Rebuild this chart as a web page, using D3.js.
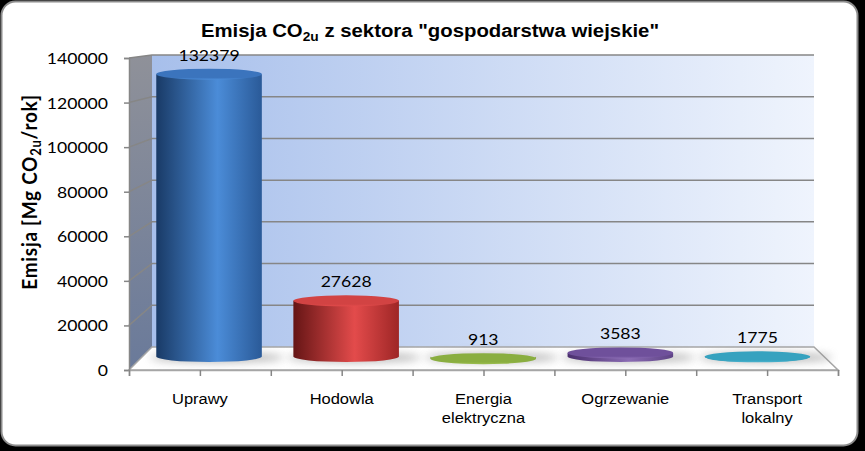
<!DOCTYPE html>
<html>
<head>
<meta charset="utf-8">
<script src="https://cdn.jsdelivr.net/npm/d3@7/dist/d3.min.js"></script>
<style>
  body { margin: 0; background: #000; }
  svg { display: block; }
</style>
</head>
<body>
<svg id="chart" width="865" height="451"></svg>
<script>
// data
const categories = [["Uprawy"], ["Hodowla"], ["Energia", "elektryczna"], ["Ogrzewanie"], ["Transport", "lokalny"]];
const values = [132379, 27628, 913, 3583, 1775];
const yTicks = [0, 20000, 40000, 60000, 80000, 100000, 120000, 140000];
const sideDark = ["#193a66", "#651515", "#6b8a2a", "#4a2f6e", "#1f6f85"];
const sideLight = ["#4b8cd8", "#e34b4b", "#9cbf4f", "#8a6bb3", "#4cb4cf"];
const sideEdge = ["#2a5a98", "#9e2626", "#7fa237", "#5e4385", "#2a8ba6"];
const topFill = ["#3b74bd", "#d24343", "#8aae40", "#6f509b", "#36a2bf"];

const svg = d3.select("#chart");
const defs = svg.append("defs");

// front plane and back plane of the 3d box
const xFront = d3.scaleLinear().domain([0, 5]).range([129, 838]);
const xBack = d3.scaleLinear().domain([0, 5]).range([152, 814]);
const yFront = d3.scaleLinear().domain([0, 140000]).range([370, 58]);
const yBack = d3.scaleLinear().domain([0, 140000]).range([347, 55]);

// point in the box, d = depth 0 (front) .. 1 (back)
function px(u, d) { return xFront(u) + (xBack(u) - xFront(u)) * d; }
function py(v, d) { return yFront(v) + (yBack(v) - yFront(v)) * d; }

// stretched text, the picture is a bit wider than tall
function label(g, x, y, str) {
  return g.append("text").attr("transform", "translate(" + x + "," + y + ") scale(1.1,1)").text(str);
}

// panel
svg.append("rect")
  .attr("x", 1.5).attr("y", 1.5).attr("width", 856).attr("height", 444)
  .attr("rx", 14)
  .attr("fill", "#fff").attr("stroke", "#8c8c8c").attr("stroke-width", 2);

// gradients
const wallGrad = defs.append("linearGradient").attr("id", "wall").attr("x1", 0).attr("x2", 1).attr("y1", 0).attr("y2", 0);
wallGrad.append("stop").attr("offset", "0%").attr("stop-color", "#a7bfeb");
wallGrad.append("stop").attr("offset", "100%").attr("stop-color", "#eff4fd");

const sideGrad = defs.append("linearGradient").attr("id", "side").attr("x1", 0).attr("x2", 0).attr("y1", 0).attr("y2", 1);
sideGrad.append("stop").attr("offset", "0%").attr("stop-color", "#8f9199");
sideGrad.append("stop").attr("offset", "100%").attr("stop-color", "#6a7a9a");

values.forEach(function(v, i) {
  const g = defs.append("linearGradient").attr("id", "cyl" + i).attr("x1", 0).attr("x2", 1).attr("y1", 0).attr("y2", 0);
  g.append("stop").attr("offset", "0%").attr("stop-color", sideDark[i]);
  g.append("stop").attr("offset", "58%").attr("stop-color", sideLight[i]);
  g.append("stop").attr("offset", "100%").attr("stop-color", sideEdge[i]);
  const t = defs.append("linearGradient").attr("id", "top" + i).attr("x1", 0).attr("x2", 0).attr("y1", 0).attr("y2", 1);
  t.append("stop").attr("offset", "0%").attr("stop-color", topFill[i]);
  t.append("stop").attr("offset", "80%").attr("stop-color", topFill[i]);
  t.append("stop").attr("offset", "100%").attr("stop-color", sideLight[i]);
});

defs.append("filter").attr("id", "blur").attr("x", "-50%").attr("y", "-200%").attr("width", "200%").attr("height", "500%")
  .append("feGaussianBlur").attr("stdDeviation", 4);

// back wall
svg.append("path")
  .attr("d", d3.line()([[xBack(0), yBack(140000)], [xBack(5), yBack(140000)], [xBack(5), yBack(0)], [xBack(0), yBack(0)]]) + "Z")
  .attr("fill", "url(#wall)");

// left side wall
svg.append("path")
  .attr("d", d3.line()([[xFront(0), yFront(140000)], [xBack(0), yBack(140000)], [xBack(0), yBack(0)], [xFront(0), yFront(0)]]) + "Z")
  .attr("fill", "url(#side)");

// gridlines on both walls
const grid = svg.append("g").attr("stroke", "#868686").attr("stroke-width", 1.5).attr("fill", "none");
yTicks.filter(function(t) { return t > 0; }).forEach(function(t) {
  grid.append("path").attr("d", d3.line()([[xFront(0), yFront(t)], [xBack(0), yBack(t)], [xBack(5), yBack(t)]]));
});

// floor
svg.append("path")
  .attr("d", d3.line()([[xFront(0), yFront(0)], [xBack(0), yBack(0)], [xBack(5), yBack(0)], [xFront(5), yFront(0)]]) + "Z")
  .attr("fill", "#fff").attr("stroke", "#a6a6a6").attr("stroke-width", 1.5);

// shadows on the floor
values.forEach(function(v, i) {
  const cx = px(i + 0.5, 0.5);
  const rx = (px(i + 1, 0.5) - px(i, 0.5)) * 0.385;
  svg.append("ellipse")
    .attr("cx", cx + 8).attr("cy", py(0, 0.5) - 1)
    .attr("rx", rx + 14).attr("ry", 5)
    .attr("fill", "#8a8a8a").attr("opacity", 0.6)
    .attr("filter", "url(#blur)");
});

// cylinders
const ry = 5.5;
values.forEach(function(v, i) {
  const cx = px(i + 0.5, 0.5);
  const rx = (px(i + 1, 0.5) - px(i, 0.5)) * 0.385;
  const yb = py(0, 0.5) - 2;
  const yt = py(v, 0.45) + 1;
  const g = svg.append("g");
  g.append("path")
    .attr("d", "M" + (cx - rx) + "," + yt +
      "L" + (cx - rx) + "," + yb +
      "A" + rx + "," + ry + " 0 0 0 " + (cx + rx) + "," + yb +
      "L" + (cx + rx) + "," + yt + "Z")
    .attr("fill", "url(#cyl" + i + ")");
  g.append("ellipse")
    .attr("cx", cx).attr("cy", yt).attr("rx", rx).attr("ry", ry)
    .attr("fill", "url(#top" + i + ")");
});

// value labels
const vals = svg.append("g").attr("font-family", "Lato, 'Open Sans', sans-serif").attr("font-size", 16)
  .attr("text-anchor", "middle").attr("fill", "#000");
values.forEach(function(v, i) {
  label(vals, px(i + 0.5, 0.5), py(v, 0.5) - 12, v);
});

// y axis
const yAxis = svg.append("g")
  .attr("transform", "translate(" + xFront(0) + ",0)")
  .call(d3.axisLeft(yFront).tickValues(yTicks).tickSize(5).tickPadding(0).tickFormat(function(d) { return d; }));
yAxis.select(".domain").attr("stroke", "#868686").attr("stroke-width", 1.5);
yAxis.selectAll(".tick line").attr("stroke", "#868686").attr("stroke-width", 1.5);
yAxis.selectAll(".tick text").remove();
yAxis.selectAll(".tick").each(function(d) {
  label(d3.select(this), -21, 5.5, d)
    .attr("text-anchor", "end")
    .attr("font-family", "Lato, 'Open Sans', sans-serif").attr("font-size", 16).attr("fill", "#000");
});

// x axis ticks
const xTicks = d3.range(0, 5.01, 0.5);
const xAxis = svg.append("g")
  .attr("transform", "translate(0," + yFront(0) + ")")
  .call(d3.axisBottom(xFront).tickValues(xTicks).tickSize(6).tickFormat(""));
xAxis.select(".domain").attr("stroke", "#a6a6a6").attr("stroke-width", 1.5);
xAxis.selectAll(".tick line").attr("stroke", "#868686").attr("stroke-width", 1.5);

// x labels
const xl = svg.append("g").attr("font-family", "'Liberation Sans', Arial, sans-serif").attr("font-size", 15)
  .attr("text-anchor", "middle").attr("fill", "#000");
categories.forEach(function(c, i) {
  c.forEach(function(line, j) {
    label(xl, xFront(i + 0.5), 404 + j * 19, line);
  });
});

// title
const title = svg.append("text")
  .attr("transform", "translate(430,37) scale(1.1,1)")
  .attr("text-anchor", "middle")
  .attr("font-family", "'Liberation Sans', Arial, sans-serif")
  .attr("font-weight", "bold").attr("font-size", 18.5).attr("fill", "#000");
title.append("tspan").text("Emisja CO");
title.append("tspan").attr("dy", 4).attr("font-size", 12.5).text("2u");
title.append("tspan").attr("dy", -4).text(" z sektora \"gospodarstwa wiejskie\"");

// y axis title
const yt = svg.append("text")
  .attr("transform", "translate(37,192) scale(1.1,1) rotate(-90)")
  .attr("text-anchor", "middle")
  .attr("font-family", "Lato, 'Open Sans', sans-serif")
  .attr("font-weight", "bold").attr("font-size", 19).attr("letter-spacing", 0.7).attr("fill", "#000");
yt.append("tspan").text("Emisja [Mg CO");
yt.append("tspan").attr("dy", 4).attr("font-size", 13).text("2u");
yt.append("tspan").attr("dy", -4).text("/rok]");
</script>
</body>
</html>
